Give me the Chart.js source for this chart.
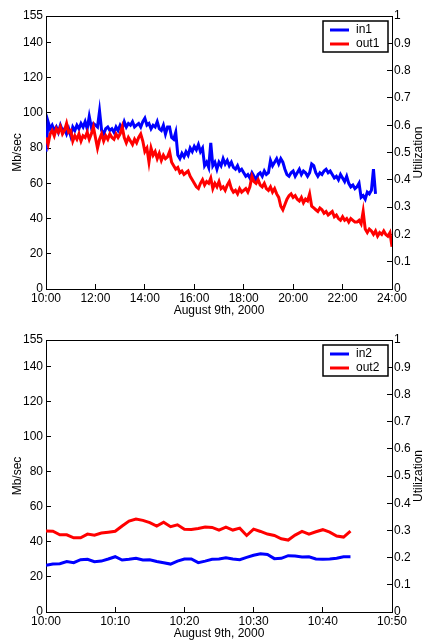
<!DOCTYPE html>
<html lang="en">
<head>
<meta charset="UTF-8">
<title>Link traffic, August 9th, 2000</title>
<script src="https://cdn.jsdelivr.net/npm/chart.js"></script>
<style>
  body { margin: 0; overflow: hidden; background: #fff; }
  canvas { position: absolute; left: 0; }
  #top { top: 0; }
  #bottom { top: 322px; }
</style>
</head>
<body>
<canvas id="top" width="427" height="320"></canvas>
<canvas id="bottom" width="427" height="321"></canvas>
<script>
// ---- data (Mb/sec) ----
// upper plot: one value every 5 minutes starting 10:00
const in1 = [
  78, 95, 91, 93, 90, 92, 89, 93, 90, 91, 88, 91,
  87, 92, 90, 93, 91, 94, 92, 95, 91, 98, 92, 94,
  93, 92, 101, 90, 88, 91, 92, 90, 91, 89, 92, 90,
  93, 91, 95, 92, 94, 93, 95, 92, 93, 94, 92, 95,
  97, 93, 94, 91, 93, 92, 95, 91, 90, 93, 88, 92,
  92, 86, 85, 89, 76, 74, 77, 75, 78, 76, 80, 78,
  81, 79, 82, 78, 80, 70, 72, 69, 83, 70, 72, 68,
  72, 70, 74, 71, 73, 70, 72, 69, 68, 70, 67, 68,
  66, 64, 65, 63, 66, 64, 62, 65, 66, 64, 67, 65,
  66, 73, 70, 72, 74, 71, 74, 72, 68, 65, 64, 66,
  67, 64, 66, 68, 65, 67, 66, 64, 66, 71, 70, 66,
  64, 66, 65, 67, 68, 66, 67, 65, 63, 64, 62, 65,
  63, 61, 64, 60, 58, 59, 57, 58, 60, 52, 53, 51,
  55, 54, 56, 68, 54
];
const out1 = [
  86, 82, 88, 90, 87, 91, 89, 92, 88, 90, 94, 89,
  90, 84, 87, 85, 88, 84, 87, 86, 89, 85, 88, 92,
  86, 80, 85, 88, 84, 87, 85, 88, 86, 85, 88, 86,
  88, 92, 86, 83, 86, 84, 82, 85, 83, 86, 88, 84,
  78, 80, 72, 80, 76, 78, 74, 77, 73, 76, 74, 75,
  78, 72, 70, 68, 69, 66, 67, 65, 66, 67, 64, 62,
  60, 58, 57, 60, 62, 59, 61, 60, 63, 57, 60, 58,
  61, 57, 58, 56, 59, 61, 57, 55, 56, 54, 57, 55,
  56, 57, 55, 58, 64, 61, 60, 62, 59, 58, 60, 57,
  56, 58, 55, 57, 54, 52, 47, 45, 48, 51, 53, 54,
  52, 53, 51, 50, 52, 49, 51, 50, 54, 47, 46, 45,
  44, 46, 45, 43, 44, 42, 43, 44, 41, 42, 40, 39,
  41, 39, 40, 38, 40, 39, 38, 38, 39, 37, 44, 34,
  32, 34, 33, 31, 33, 30, 32, 31, 33, 31, 30, 32,
  24
];
// lower plot: one value per minute starting 10:00
const in2 = [
  26.6, 27.3, 27.5, 28.7, 28.1, 29.8, 30.0, 28.7, 29.0, 30.2,
  31.5, 29.6, 30.0, 30.6, 29.6, 29.8, 28.8, 28.1, 27.3, 29.0,
  30.2, 30.2, 28.1, 29.0, 30.0, 30.2, 30.9, 30.2, 29.8, 31.1,
  32.3, 33.2, 32.8, 30.4, 30.6, 32.1, 31.9, 31.3, 31.5, 30.2,
  30.0, 30.2, 30.6, 31.5, 31.5
];
const out2 = [
  46.1, 46.0, 44.0, 44.0, 42.3, 42.3, 44.4, 43.8, 45.0, 45.5,
  46.0, 49.0, 51.8, 53.0, 52.2, 50.9, 49.0, 51.2, 48.6, 49.7,
  47.2, 47.0, 47.6, 48.4, 48.2, 46.7, 48.4, 46.7, 47.8, 43.6,
  47.2, 45.9, 44.4, 43.6, 41.7, 41.0, 43.8, 45.9, 44.4, 45.7,
  46.9, 45.5, 43.3, 42.7, 46.1
];

// ---- axes ----
const mbTicks = [0, 20, 40, 60, 80, 100, 120, 140, 155];
const utilTicks = [0, 0.1, 0.2, 0.3, 0.4, 0.5, 0.6, 0.7, 0.8, 0.9, 1];
const dayTicks = [600, 720, 840, 960, 1080, 1200, 1320, 1440];        // minutes since midnight
const dayLabels = ['10:00', '12:00', '14:00', '16:00', '18:00', '20:00', '22:00', '24:00'];
const hourTicks = [0, 10, 20, 30, 40, 50];                          // minutes after 10:00
const hourLabels = ['10:00', '10:10', '10:20', '10:30', '10:40', '10:50'];
const xTitle = 'August 9th, 2000';

const font = { family: '"Liberation Sans", Arial, sans-serif', size: 12 };

function points(values, start, step) {
  return values.map((v, i) => ({ x: start + i * step, y: v }));
}

// box on top, right axis label read bottom-up, and the boxed legend
const frame = {
  id: 'frame',
  afterDraw(chart) {
    const { ctx, chartArea: a } = chart;
    ctx.save();
    ctx.strokeStyle = '#000';
    ctx.lineWidth = 1;
    ctx.beginPath();
    ctx.moveTo(a.left, Math.round(a.top) + 0.5);
    ctx.lineTo(a.right, Math.round(a.top) + 0.5);
    ctx.stroke();

    ctx.font = '12px ' + font.family;
    ctx.fillStyle = '#000';
    ctx.save();
    ctx.translate(419, (a.top + a.bottom) / 2);
    ctx.rotate(-Math.PI / 2);
    ctx.textAlign = 'center';
    ctx.textBaseline = 'middle';
    ctx.fillText('Utilization', 0, 0);
    ctx.restore();

    const bx = 323, by = a.top + 5, bw = 65, bh = 31;
    ctx.fillStyle = '#fff';
    ctx.fillRect(bx, by, bw, bh);
    ctx.lineWidth = 1.5;
    ctx.strokeRect(bx, by, bw, bh);
    chart.data.datasets.forEach((ds, i) => {
      const y = by + 9 + i * 14;
      ctx.strokeStyle = ds.borderColor;
      ctx.lineWidth = 3;
      ctx.beginPath();
      ctx.moveTo(bx + 7, y);
      ctx.lineTo(bx + 26, y);
      ctx.stroke();
      ctx.fillStyle = '#000';
      ctx.textAlign = 'left';
      ctx.textBaseline = 'middle';
      ctx.fillText(ds.label, bx + 33, y);
    });
    ctx.restore();
  }
};

function makeChart(id, sets, xMin, xMax, xTicks, xLabels, topPad) {
  return new Chart(document.getElementById(id), {
    type: 'line',
    data: {
      datasets: sets.map(s => ({
        label: s.label,
        data: s.data,
        borderColor: s.color,
        borderWidth: 3,
        pointRadius: 0,
        tension: 0,
        fill: false,
        order: s.order,
        yAxisID: 'y'
      }))
    },
    options: {
      responsive: false,
      animation: false,
      events: [],
      layout: { padding: { top: topPad, left: 0, right: 0, bottom: 0 } },
      plugins: { legend: { display: false }, tooltip: { enabled: false } },
      scales: {
        x: {
          type: 'linear', min: xMin, max: xMax,
          afterBuildTicks: s => { s.ticks = xTicks.map(v => ({ value: v })); },
          afterFit: s => { s.height = 31; },
          ticks: {
            autoSkip: false, maxRotation: 0, padding: 7, color: '#000', font,
            callback: (v) => xLabels[xTicks.indexOf(v)]
          },
          grid: { drawOnChartArea: false, tickLength: -5, color: '#000' },
          border: { color: '#000', width: 1 },
          title: { display: true, text: xTitle, color: '#000', font, padding: { top: 0, bottom: 2 } }
        },
        y: {
          type: 'linear', position: 'left', min: 0, max: 155,
          afterBuildTicks: s => { s.ticks = mbTicks.map(v => ({ value: v })); },
          afterFit: s => { s.width = 46; },
          ticks: { autoSkip: false, padding: 8, color: '#000', font, callback: v => String(v) },
          grid: { drawOnChartArea: false, tickLength: -5, color: '#000' },
          border: { color: '#000', width: 1 },
          title: { display: true, text: 'Mb/sec', color: '#000', font, padding: { top: 10, bottom: 0 } }
        },
        util: {
          type: 'linear', position: 'right', min: 0, max: 1,
          afterBuildTicks: s => { s.ticks = utilTicks.map(v => ({ value: v })); },
          afterFit: s => { s.width = 35; },
          ticks: { autoSkip: false, padding: 7, color: '#000', font, callback: v => String(v) },
          grid: { drawOnChartArea: false, tickLength: -5, color: '#000' },
          border: { color: '#000', width: 1 }
        }
      }
    },
    plugins: [frame]
  });
}

makeChart('top', [
  { label: 'in1', data: points(in1, 600, 5), color: '#0000ff', order: 1 },
  { label: 'out1', data: points(out1, 600, 5), color: '#ff0000', order: 0 }
], 600, 1440, dayTicks, dayLabels, 16);

makeChart('bottom', [
  { label: 'in2', data: points(in2, 0, 1), color: '#0000ff', order: 1 },
  { label: 'out2', data: points(out2, 0, 1), color: '#ff0000', order: 0 }
], 0, 50, hourTicks, hourLabels, 18);
</script>
</body>
</html>
